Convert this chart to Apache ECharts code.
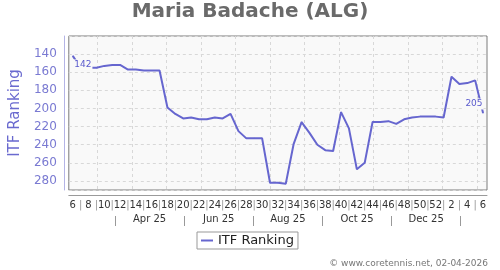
<!DOCTYPE html>
<html>
<head>
<meta charset="utf-8">
<script src="https://cdn.jsdelivr.net/npm/echarts@6/dist/echarts.min.js"></script>
<style>html,body{margin:0;padding:0;background:#fff}#c{width:500px;height:270px}</style>
</head>
<body>
<div id="c"></div>
<script>
// ISO week numbers, week 6 of 2025 to week 6 of 2026
const weeks = [6,7,8,9,10,11,12,13,14,15,16,17,18,19,20,21,22,23,24,25,26,27,28,29,30,31,32,33,34,35,36,37,38,39,40,41,42,43,44,45,46,47,48,49,50,51,52,1,2,3,4,5,6];
const ranking = [142,155,155,155,153,152,152,157,157,158,158,158,199,206,211,210,212,212,210,211,206,225,233,233,233,282,282,283,239,215,227,240,246,247,204,222,267,260,215,215,214,217,212,210,209,209,209,210,165,173,172,169,205];
const monthLabels = ['Apr 25','Jun 25','Aug 25','Oct 25','Dec 25'];
const monthGridCount = 12; // mid-month vertical gridlines, Mar 25 .. Feb 26
const seriesName = 'ITF Ranking';
const titleText = 'Maria Badache (ALG)';
const footerText = '\u00a9 www.coretennis.net, 02-04-2026';

const FONT = 'DejaVu Sans';
const LINE = '#6666cf';
const last = ranking.length - 1;

const seriesData = ranking.map(function (v, i) {
  if (i === 0) {
    return { value: v, label: { show: true, position: 'right', distance: 0, offset: [0, 9] } };
  }
  if (i === last) {
    return { value: v, label: { show: true, position: 'left', distance: 0, offset: [1, -9] } };
  }
  return v;
});

const chart = echarts.init(document.getElementById('c'), null, { renderer: 'canvas' });
chart.setOption({
  animation: false,
  backgroundColor: '#ffffff',
  textStyle: { fontFamily: FONT },
  title: [
    { text: titleText, left: 'center', top: 2, padding: 0,
      textStyle: { fontFamily: FONT, fontSize: 20, fontWeight: 'bold', color: '#6a6a6a' } },
    { text: footerText, right: 12, bottom: 2, padding: 0,
      textStyle: { fontFamily: FONT, fontSize: 9, fontWeight: 'normal', color: '#777777' } }
  ],
  legend: {
    data: [seriesName],
    left: 197, top: 232,
    padding: [2, 4, 2, 4],
    icon: 'rect', itemWidth: 12, itemHeight: 2,
    borderColor: '#999999', borderWidth: 1, backgroundColor: '#ffffff',
    textStyle: { fontFamily: FONT, fontSize: 13, color: '#222222' }
  },
  grid: [
    { left: 68, right: 13, top: 36, bottom: 80, show: true,
      backgroundColor: '#f9f9f9', borderColor: '#7a7a7a', borderWidth: 1 },
    { left: 97.3, right: 23, top: 36, bottom: 80 },
    { left: 115, right: 39.3, top: 200, bottom: 44 }
  ],
  xAxis: [
    { type: 'category', gridIndex: 0, data: weeks.map(String), boundaryGap: true, offset: 5,
      axisLine: { lineStyle: { color: '#9a9a9a', width: 1 } },
      axisTick: { show: false },
      splitLine: { show: false },
      axisLabel: { interval: 0, margin: 5, fontFamily: FONT, fontSize: 10, color: '#333333',
        formatter: function (v) { return (+v) % 2 === 0 ? v : '{p||}'; },
        rich: { p: { color: '#999999', fontFamily: FONT, fontSize: 10 } } } },
    { type: 'value', gridIndex: 1, min: 0, max: monthGridCount - 1, interval: 1,
      axisLine: { show: false }, axisTick: { show: false }, axisLabel: { show: false },
      splitLine: { show: true, lineStyle: { color: '#d8d8d8', type: [3, 3], width: 1 } } },
    { type: 'category', gridIndex: 2, data: monthLabels, boundaryGap: true,
      axisLine: { show: false },
      axisTick: { show: true, inside: true, length: 10, lineStyle: { color: '#999999' } },
      splitLine: { show: false },
      axisLabel: { margin: -12, fontFamily: FONT, fontSize: 10, color: '#333333' } }
  ],
  yAxis: [
    { type: 'value', gridIndex: 0, inverse: true, min: 120, max: 290, interval: 20, offset: 5,
      name: seriesName, nameLocation: 'middle', nameGap: 33,
      nameTextStyle: { fontFamily: FONT, fontSize: 15, color: '#6a6acf' },
      axisLine: { show: true, lineStyle: { color: '#b4b4e6', width: 1 } },
      axisTick: { show: false },
      axisLabel: { showMinLabel: false, showMaxLabel: false, margin: 7,
        fontFamily: FONT, fontSize: 12, color: '#7a7ad2' },
      splitLine: { show: true, lineStyle: { color: '#d8d8d8', type: [3, 3], width: 1 } } },
    { type: 'value', gridIndex: 1, show: false, min: 0, max: 1 },
    { type: 'value', gridIndex: 2, show: false, min: 0, max: 1 }
  ],
  series: [{
    name: seriesName, type: 'line', xAxisIndex: 0, yAxisIndex: 0,
    data: seriesData,
    symbol: 'circle', symbolSize: 1, showSymbol: true,
    itemStyle: { color: LINE },
    lineStyle: { color: LINE, width: 2 },
    label: { show: false, fontFamily: FONT, fontSize: 9, color: '#5a5acd',
      backgroundColor: '#f9f9f9', padding: [1, 1, 1, 1] },
    z: 3
  }]
});
</script>
</body>
</html>
